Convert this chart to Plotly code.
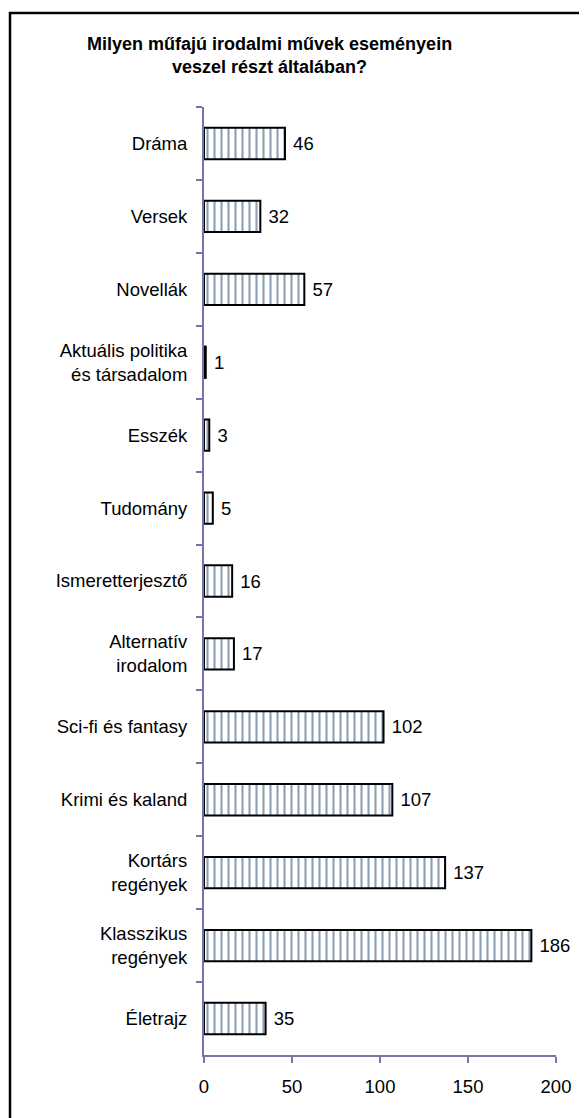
import plotly.graph_objects as go

categories = [
    "Dráma", "Versek", "Novellák", "Aktuális politika<br>és társadalom", "Esszék",
    "Tudomány", "Ismeretterjesztő", "Alternatív<br>irodalom", "Sci-fi és fantasy",
    "Krimi és kaland", "Kortárs<br>regények", "Klasszikus<br>regények", "Életrajz",
]
values = [46, 32, 57, 1, 3, 5, 16, 17, 102, 107, 137, 186, 35]
x_ticks = [0, 50, 100, 150, 200]

title = "Milyen műfajú irodalmi művek eseményein<br>veszel részt általában?"
axis_color = "#7474a8"
font_family = "Arial, Liberation Sans, sans-serif"
fsize = 18.5

# page body has an 8px margin, so work in shifted pixel coordinates
OFF = 8
W, H = 587 - OFF, 1118 - OFF
L, R, T, B = 204 - OFF, 556 - OFF, 107 - OFF, 1055 - OFF
pw, ph = R - L, B - T

fig = go.Figure()
fig.add_trace(
    go.Bar(
        x=values,
        y=categories,
        orientation="h",
        width=0.43,
        marker=dict(
            color="white",
            line=dict(color="black", width=2),
            pattern=dict(shape="|", fgcolor="#1a3f6b", bgcolor="white", size=7, solidity=0.3),
        ),
        text=[f" {v}" for v in values],
        textposition="outside",
        textfont=dict(family=font_family, size=fsize, color="black"),
        cliponaxis=False,
        hoverinfo="skip",
    )
)

fig.update_layout(
    width=W,
    height=H,
    margin=dict(l=L, r=W - R, t=T, b=H - B),
    paper_bgcolor="white",
    plot_bgcolor="white",
    showlegend=False,
    font=dict(family=font_family, size=fsize, color="black"),
)

fig.update_xaxes(
    range=[0, 200],
    tickvals=x_ticks,
    automargin=False,
    showgrid=False,
    zeroline=False,
    showline=True,
    linecolor=axis_color,
    linewidth=2,
    ticks="outside",
    tickcolor=axis_color,
    tickwidth=2,
    ticklen=6,
    ticklabelstandoff=8,
    tickfont=dict(size=fsize, color="black"),
)
fig.update_yaxes(
    categoryorder="array",
    categoryarray=categories,
    autorange="reversed",
    automargin=False,
    tickson="boundaries",
    showgrid=False,
    showline=True,
    linecolor=axis_color,
    linewidth=2,
    ticks="outside",
    tickcolor=axis_color,
    tickwidth=2,
    ticklen=6,
    ticklabelstandoff=11,
    tickfont=dict(size=fsize, color="black"),
)

# title
fig.add_annotation(
    x=(269 - OFF - L) / pw, y=1.0, xref="paper", yref="paper",
    xanchor="center", yanchor="bottom", yshift=28,
    text="<b>" + title + "</b>", showarrow=False,
    font=dict(family=font_family, size=18, color="black"),
    align="center",
)

# outer frame
fig.add_shape(
    type="rect", xref="paper", yref="paper",
    x0=-(L - (10 - OFF)) / pw, x1=1 + 60 / pw, y0=-100 / ph, y1=1 + (T - (13 - OFF)) / ph,
    line=dict(color="black", width=2.5), fillcolor="rgba(0,0,0,0)",
    layer="below",
)

fig.write_html("out.html")
